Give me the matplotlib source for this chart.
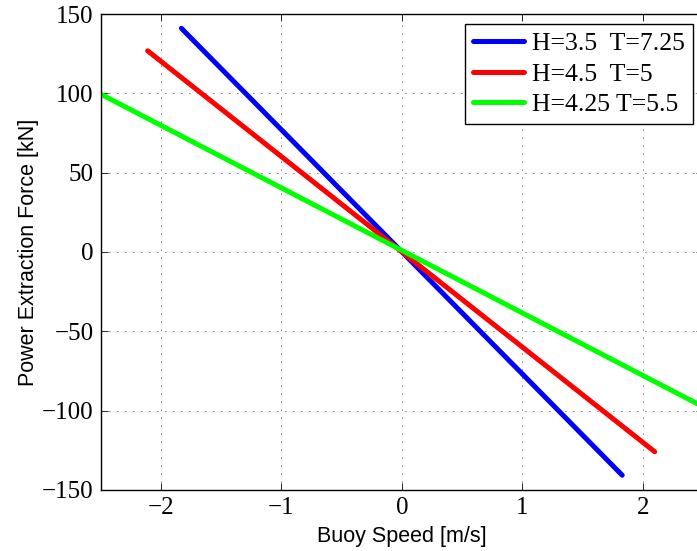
import numpy as np
import matplotlib.pyplot as plt

# Force vs. buoy speed for three sea states (end points of each linear run)
labels = ["H=3.5  T=7.25", "H=4.5  T=5", "H=4.25 T=5.5"]
colors = ["#0000ff", "#ff0000", "#00ff00"]
speed = [
    [-1.83, 1.83],
    [-2.11, 2.10],
    [-2.55, 2.55],
]
force = [
    [141.0, -140.8],
    [126.8, -126.0],
    [101.5, -99.5],
]

xticks = [-2, -1, 0, 1, 2]
yticks = [-150, -100, -50, 0, 50, 100, 150]

fig = plt.figure(figsize=(6.97, 5.51), dpi=100)
ax = fig.add_axes([0.1445, 0.111, 0.864, 0.8635])

for x, y, lab, c in zip(speed, force, labels, colors):
    ax.plot(x, y, color=c, lw=3.6, label=lab, solid_capstyle="round")

ax.set_xlim(-2.5, 2.5)
ax.set_ylim(-150, 150)
ax.set_xticks(xticks)
ax.set_yticks(yticks)
ax.grid(True, color="black", linestyle=(0, (1, 8.6)), linewidth=0.6)
ax.tick_params(direction="in", top=True, right=True, length=5, width=0.6,
               labelsize=18, pad=5)
for lbl in ax.get_xticklabels() + ax.get_yticklabels():
    lbl.set_family("Liberation Serif")
for s in ax.spines.values():
    s.set_linewidth(1.0)

ax.set_xlabel("Buoy Speed [m/s]", family="Liberation Sans", fontsize=15.5, labelpad=5)
ax.set_ylabel("Power Extraction Force [kN]", family="Liberation Sans", fontsize=15.5, labelpad=2)

leg = ax.legend(loc="upper right", prop={"family": "Liberation Serif", "size": 18.5},
                fancybox=False, framealpha=1, edgecolor="black",
                handlelength=2.0, handletextpad=0.3, labelspacing=0.3,
                borderpad=0.3, borderaxespad=0.4)
leg.get_frame().set_linewidth(1.0)

fig.savefig("out.png", dpi=100)
